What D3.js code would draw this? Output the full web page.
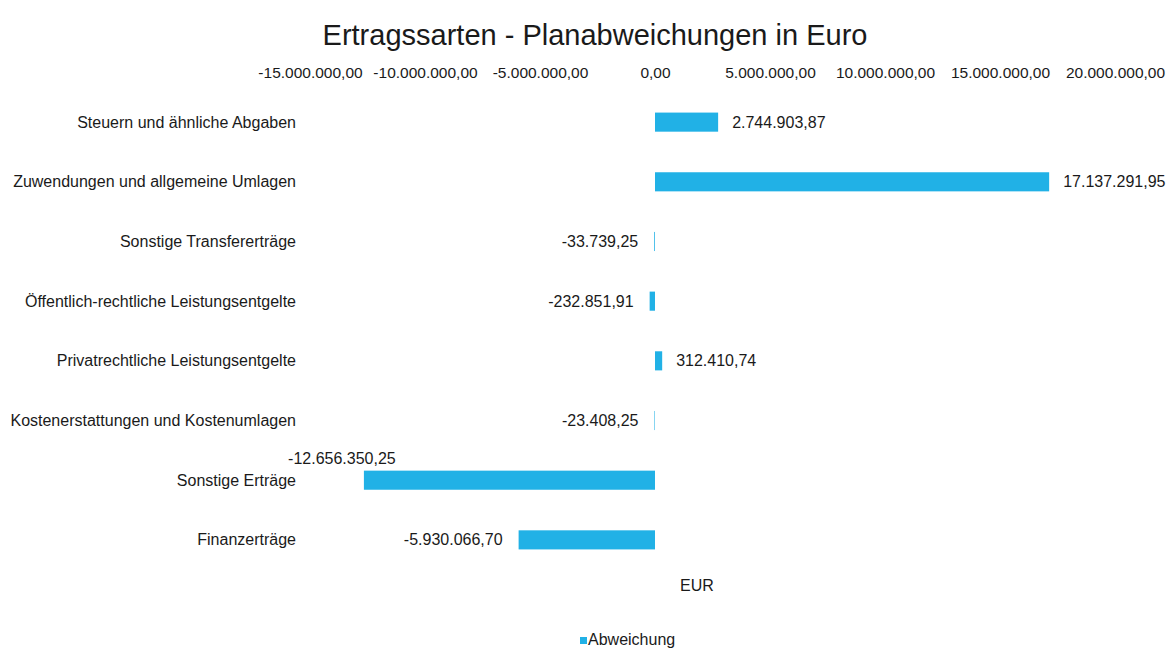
<!DOCTYPE html>
<html>
<head>
<meta charset="utf-8">
<script src="https://cdn.jsdelivr.net/npm/d3@7"></script>
<style>
  body { margin: 0; background: #fff; }
  text { font-family: "Liberation Sans", Arial, sans-serif; fill: #1a1a1a; }
</style>
</head>
<body>
<div id="chart"></div>
<script>
var categories = [
  'Steuern und ähnliche Abgaben',
  'Zuwendungen und allgemeine Umlagen',
  'Sonstige Transfererträge',
  'Öffentlich-rechtliche Leistungsentgelte',
  'Privatrechtliche Leistungsentgelte',
  'Kostenerstattungen und Kostenumlagen',
  'Sonstige Erträge',
  'Finanzerträge'
];
var abweichung = [2744903.87, 17137291.95, -33739.25, -232851.91, 312410.74, -23408.25, -12656350.25, -5930066.70];
var tickValues = [-15000000, -10000000, -5000000, 0, 5000000, 10000000, 15000000, 20000000];

var de = d3.formatLocale({ decimal: ',', thousands: '.', grouping: [3], currency: ['', ' €'], minus: '-' }),
    fmt = de.format(',.2f');

var svg = d3.select('#chart')
            .append('svg')
            .attr('width', 1170)
            .attr('height', 648);

var x = d3.scaleLinear()
          .domain([-15000000, 20000000])
          .range([310, 1115]);

var y = d3.scaleBand()
          .domain(categories)
          .range([72, 590])
          .padding(0.68);

svg.append('text')
   .attr('x', 595)
   .attr('y', 45)
   .attr('text-anchor', 'middle')
   .style('font-size', '29px')
   .text('Ertragssarten - Planabweichungen in Euro');

var xAxis = svg.append('g')
               .attr('transform', 'translate(0,78)')
               .call(d3.axisTop(x).tickValues(tickValues).tickFormat(fmt).tickSize(0).tickPadding(0));
xAxis.select('.domain').remove();
xAxis.selectAll('text').style('font-size', '15.5px').style('font-family', null).attr('fill', null);

svg.append('g')
   .selectAll('text')
   .data(categories)
   .enter()
     .append('text')
     .attr('x', 296)
     .attr('y', function(d) { return y(d) + y.bandwidth() / 2; })
     .attr('dy', '0.35em')
     .attr('text-anchor', 'end')
     .style('font-size', '16px')
     .text(function(d) { return d; });

var rows = categories.map(function(c, i) { return { cat: c, v: abweichung[i] }; });

svg.append('g')
   .selectAll('rect')
   .data(rows)
   .enter()
     .append('rect')
     .attr('x', function(d) { return Math.min(x(d.v), x(0)); })
     .attr('y', function(d) { return y(d.cat); })
     .attr('width', function(d) { return Math.abs(x(d.v) - x(0)); })
     .attr('height', y.bandwidth())
     .attr('fill', '#21b1e6');

// value labels: outside end, the one that would run into the category names goes above the bar
svg.append('g')
   .selectAll('text')
   .data(rows)
   .enter()
     .append('text')
     .style('font-size', '16px')
     .attr('text-anchor', function(d) {
       if (d.v >= 0) return 'start';
       return x(d.v) < x(-10000000) ? 'middle' : 'end';
     })
     .attr('x', function(d) {
       if (d.v >= 0) return x(d.v) + 14;
       return x(d.v) < x(-10000000) ? x(d.v) - 22 : x(d.v) - 16;
     })
     .attr('y', function(d) {
       if (d.v < 0 && x(d.v) < x(-10000000)) return y(d.cat) - 12;
       return y(d.cat) + y.bandwidth() / 2;
     })
     .attr('dy', '0.35em')
     .text(function(d) { return fmt(d.v); });

svg.append('text')
   .attr('x', 697)
   .attr('y', 591)
   .attr('text-anchor', 'middle')
   .style('font-size', '16px')
   .text('EUR');

var legend = svg.append('g').attr('transform', 'translate(580,637)');
legend.append('rect')
      .attr('width', 7)
      .attr('height', 7)
      .attr('fill', '#21b1e6');
legend.append('text')
      .attr('x', 8)
      .attr('y', 8)
      .style('font-size', '16px')
      .text('Abweichung');
</script>
</body>
</html>
